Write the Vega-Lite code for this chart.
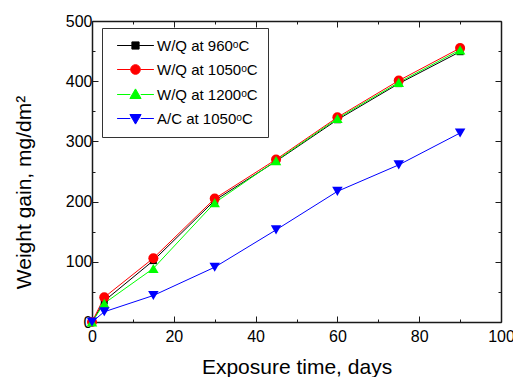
{
  "$schema": "https://vega.github.io/schema/vega-lite/v6.json",
  "width": 409,
  "height": 301,
  "autosize": {"type": "none"},
  "padding": {"left": 92, "top": 21, "right": 12, "bottom": 55},
  "background": "white",
  "config": {
    "view": {"stroke": null},
    "font": "Liberation Sans",
    "axis": {
      "grid": false,
      "domainColor": "#1a1a1a",
      "domainWidth": 1.5,
      "tickColor": "#1a1a1a",
      "tickWidth": 1,
      "labelColor": "black",
      "titleColor": "black",
      "labelFont": "Liberation Sans",
      "titleFont": "Liberation Sans",
      "labelFontSize": 16,
      "titleFontSize": 21,
      "titleFontWeight": "normal",
      "labelFlush": false,
      "labelOverlap": false
    },
    "legend": {
      "title": null,
      "orient": "none",
      "legendX": 10,
      "legendY": 7,
      "strokeColor": "#333333",
      "padding": 10,
      "fillColor": "white",
      "labelFont": "Liberation Sans",
      "labelFontSize": 15,
      "labelColor": "black",
      "symbolSize": 64,
      "symbolStrokeWidth": 1,
      "symbolOffset": 16,
      "labelOffset": 14,
      "rowPadding": 8
    }
  },
  "data": {
    "values": [
      {"series": "W/Q at 960ᵒC", "days": 0, "gain": 0},
      {"series": "W/Q at 960ᵒC", "days": 3, "gain": 35},
      {"series": "W/Q at 960ᵒC", "days": 15, "gain": 102},
      {"series": "W/Q at 960ᵒC", "days": 30, "gain": 202},
      {"series": "W/Q at 960ᵒC", "days": 45, "gain": 267},
      {"series": "W/Q at 960ᵒC", "days": 60, "gain": 336},
      {"series": "W/Q at 960ᵒC", "days": 75, "gain": 396},
      {"series": "W/Q at 960ᵒC", "days": 90, "gain": 449},
      {"series": "W/Q at 1050ᵒC", "days": 0, "gain": 0},
      {"series": "W/Q at 1050ᵒC", "days": 3, "gain": 41},
      {"series": "W/Q at 1050ᵒC", "days": 15, "gain": 106},
      {"series": "W/Q at 1050ᵒC", "days": 30, "gain": 205},
      {"series": "W/Q at 1050ᵒC", "days": 45, "gain": 270},
      {"series": "W/Q at 1050ᵒC", "days": 60, "gain": 340},
      {"series": "W/Q at 1050ᵒC", "days": 75, "gain": 401},
      {"series": "W/Q at 1050ᵒC", "days": 90, "gain": 455},
      {"series": "W/Q at 1200ᵒC", "days": 0, "gain": 0},
      {"series": "W/Q at 1200ᵒC", "days": 3, "gain": 31},
      {"series": "W/Q at 1200ᵒC", "days": 15, "gain": 89},
      {"series": "W/Q at 1200ᵒC", "days": 30, "gain": 198},
      {"series": "W/Q at 1200ᵒC", "days": 45, "gain": 268},
      {"series": "W/Q at 1200ᵒC", "days": 60, "gain": 338},
      {"series": "W/Q at 1200ᵒC", "days": 75, "gain": 398},
      {"series": "W/Q at 1200ᵒC", "days": 90, "gain": 452},
      {"series": "A/C at 1050ᵒC", "days": 0, "gain": 0},
      {"series": "A/C at 1050ᵒC", "days": 3, "gain": 17},
      {"series": "A/C at 1050ᵒC", "days": 15, "gain": 44},
      {"series": "A/C at 1050ᵒC", "days": 30, "gain": 91},
      {"series": "A/C at 1050ᵒC", "days": 45, "gain": 153},
      {"series": "A/C at 1050ᵒC", "days": 60, "gain": 217},
      {"series": "A/C at 1050ᵒC", "days": 75, "gain": 261},
      {"series": "A/C at 1050ᵒC", "days": 90, "gain": 314}
    ]
  },
  "layer": [
    {
      "mark": {"type": "line", "strokeWidth": 1, "clip": false},
      "encoding": {
        "x": {
          "field": "days", "type": "quantitative",
          "scale": {"domain": [0, 100], "nice": false},
          "axis": {
            "orient": "bottom",
            "values": [0, 10, 20, 30, 40, 50, 60, 70, 80, 90, 100],
            "labelExpr": "datum.value % 20 === 0 ? datum.label : ''",
            "tickSize": {"condition": {"test": "datum.value % 20 === 0", "value": -6}, "value": -3},
            "labelPadding": 12,
            "title": "Exposure time, days",
            "titlePadding": 9
          }
        },
        "y": {
          "field": "gain", "type": "quantitative",
          "scale": {"domain": [0, 500], "nice": false},
          "axis": {
            "orient": "left",
            "values": [0, 50, 100, 150, 200, 250, 300, 350, 400, 450, 500],
            "labelExpr": "datum.value % 100 === 0 ? datum.label : ''",
            "tickSize": {"condition": {"test": "datum.value % 100 === 0", "value": -6}, "value": -3},
            "labelPadding": 6,
            "title": "Weight gain, mg/dm²",
            "titlePadding": 31,
            "titleY": 171
          }
        },
        "color": {
          "field": "series", "type": "nominal",
          "scale": {
            "domain": ["W/Q at 960ᵒC", "W/Q at 1050ᵒC", "W/Q at 1200ᵒC", "A/C at 1050ᵒC"],
            "range": ["#000000", "#ff0000", "#00ff00", "#0000ff"]
          },
          "legend": {
            "encoding": {
              "symbols": {
                "shape": {"value": {"expr": "indexof(datum.value, '960') >= 0 ? 'M-4.6,0H-0.9M0.9,0H4.6M-0.9,-0.9H0.9V0.9H-0.9Z' : indexof(datum.value, '1200') >= 0 ? 'M-4.6,0H-1.3M1.3,0H4.6M0,-1.4L1.4,1L-1.4,1Z' : indexof(datum.value, 'A/C') >= 0 ? 'M-4.6,0H-1.3M1.3,0H4.6M0,1.4L1.4,-1L-1.4,-1Z' : 'M-4.6,0H-1.2M1.2,0H4.6M-1.2,0A1.2,1.2,0,1,1,1.2,0A1.2,1.2,0,1,1,-1.2,0Z'"}},
                "strokeWidth": {"value": 1},
                "opacity": {"value": 1}
              }
            }
          }
        }
      }
    },
    {
      "mark": {"type": "point", "filled": true, "opacity": 1, "clip": false},
      "encoding": {
        "x": {
          "field": "days", "type": "quantitative",
          "scale": {"domain": [0, 100], "nice": false},
          "axis": {
            "orient": "top",
            "values": [0, 10, 20, 30, 40, 50, 60, 70, 80, 90, 100],
            "labels": false,
            "tickSize": {"condition": {"test": "datum.value % 20 === 0", "value": -6}, "value": -3},
            "title": null
          }
        },
        "y": {
          "field": "gain", "type": "quantitative",
          "scale": {"domain": [0, 500], "nice": false},
          "axis": {
            "orient": "right",
            "values": [0, 50, 100, 150, 200, 250, 300, 350, 400, 450, 500],
            "labels": false,
            "tickSize": {"condition": {"test": "datum.value % 100 === 0", "value": -6}, "value": -3},
            "title": null
          }
        },
        "color": {
          "field": "series", "type": "nominal",
          "legend": {
            "encoding": {
              "symbols": {
                "shape": {"value": {"expr": "indexof(datum.value, '960') >= 0 ? 'M-4.6,0H-0.9M0.9,0H4.6M-0.9,-0.9H0.9V0.9H-0.9Z' : indexof(datum.value, '1200') >= 0 ? 'M-4.6,0H-1.3M1.3,0H4.6M0,-1.4L1.4,1L-1.4,1Z' : indexof(datum.value, 'A/C') >= 0 ? 'M-4.6,0H-1.3M1.3,0H4.6M0,1.4L1.4,-1L-1.4,-1Z' : 'M-4.6,0H-1.2M1.2,0H4.6M-1.2,0A1.2,1.2,0,1,1,1.2,0A1.2,1.2,0,1,1,-1.2,0Z'"}},
                "strokeWidth": {"value": 1},
                "opacity": {"value": 1}
              }
            }
          }
        },
        "shape": {
          "condition": [
            {"test": "indexof(datum.series, '960') >= 0", "value": "square"},
            {"test": "indexof(datum.series, '1200') >= 0", "value": "triangle-up"},
            {"test": "indexof(datum.series, 'A/C') >= 0", "value": "triangle-down"}
          ],
          "value": "circle"
        },
        "size": {
          "condition": [
            {"test": "indexof(datum.series, '960') >= 0", "value": 49},
            {"test": "indexof(datum.series, '1050') >= 0 && indexof(datum.series, 'W/Q') >= 0", "value": 100}
          ],
          "value": 110
        }
      }
    }
  ],
  "resolve": {"axis": {"x": "independent", "y": "independent"}}
}
